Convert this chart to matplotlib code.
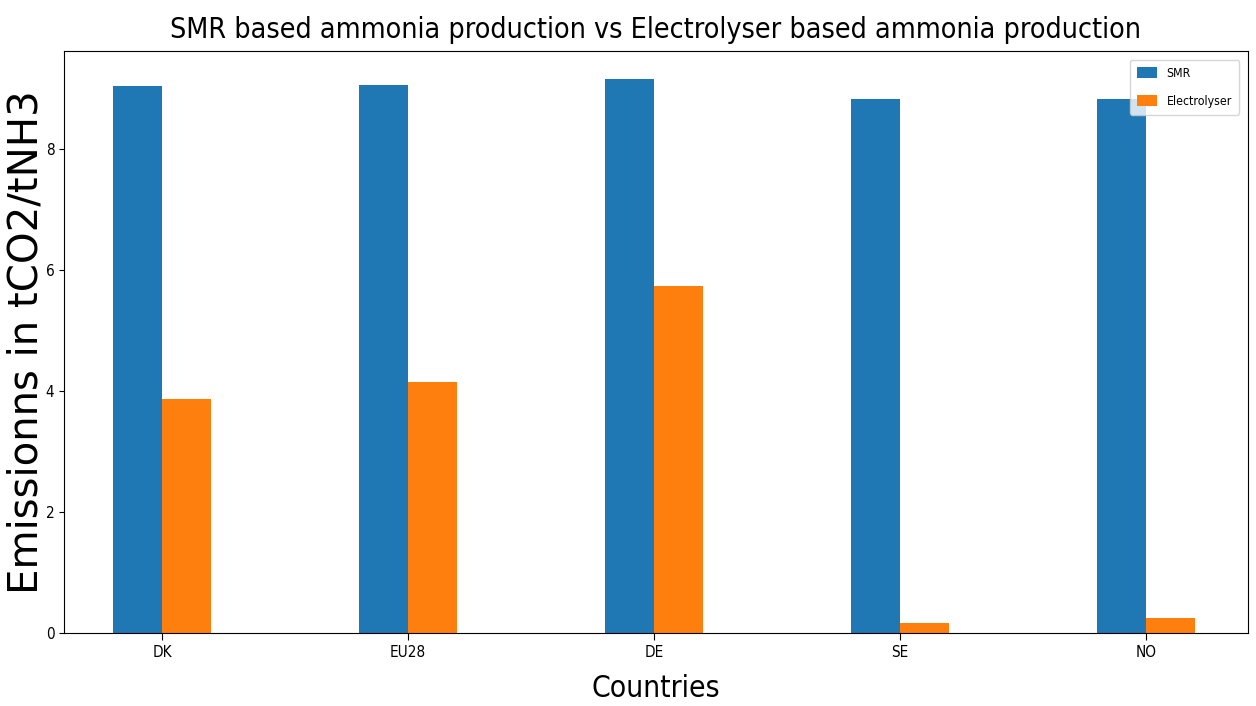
import numpy as np
import matplotlib
matplotlib.use("Agg")
import matplotlib.pyplot as plt
from matplotlib import font_manager

countries = ["DK", "EU28", "DE", "SE", "NO"]
smr = [9.04, 9.06, 9.16, 8.83, 8.83]
electrolyser = [3.87, 4.15, 5.74, 0.165, 0.25]

# the reference text looks squeezed sideways, so use a condensed face
names = {f.name for f in font_manager.fontManager.ttflist}
if "Liberation Sans Narrow" in names:
    narrow = dict(family="Liberation Sans Narrow")
    scale = 1.2
else:
    narrow = dict(family="DejaVu Sans", stretch="condensed")
    scale = 1.0

fig = plt.figure(figsize=(12.56, 7.06), dpi=100)
ax = fig.add_axes([0.051, 0.1034, 0.9425, 0.8244])

x = np.arange(len(countries))
w = 0.2
ax.bar(x - w / 2, smr, w, color="#1f77b4", label="SMR")
ax.bar(x + w / 2, electrolyser, w, color="#ff7f0e", label="Electrolyser")

ax.set_xlim(-0.398, 4.415)
ax.set_ylim(0, 9.62)
ax.set_xticks(x)
ax.set_xticklabels(countries)
ax.tick_params(axis="x", length=5)
ax.tick_params(axis="y", length=3.5)
for lab in ax.get_xticklabels() + ax.get_yticklabels():
    lab.set_fontproperties(font_manager.FontProperties(size=11 * scale, **narrow))

ax.set_title("SMR based ammonia production vs Electrolyser based ammonia production",
             fontsize=20.5 * scale, pad=9, **narrow)
ax.set_xlabel("Countries", fontsize=21.5 * scale, labelpad=10, **narrow)
ax.set_ylabel("Emissionns in tCO2/tNH3", fontsize=29, family="DejaVu Sans", labelpad=-1)

leg = ax.legend(loc="upper right", handlelength=1.6, handleheight=1.0, handletextpad=0.8,
                borderpad=0.6, labelspacing=1.2, borderaxespad=0.7,
                prop=font_manager.FontProperties(size=8.8 * scale, **narrow))

fig.savefig("out.png", dpi=100)
